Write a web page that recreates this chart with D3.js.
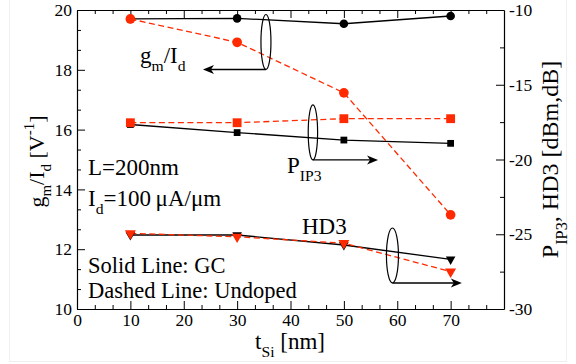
<!DOCTYPE html>
<html>
<head>
<meta charset="utf-8">
<script src="https://cdn.jsdelivr.net/npm/d3@7"></script>
<style>
  html, body { margin: 0; padding: 0; background: #fff; }
  svg { display: block; }
  text { font-family: "Liberation Serif", "Times New Roman", serif; fill: #000; }
</style>
</head>
<body>
<svg id="chart" width="576" height="364"></svg>
<script>
// Silicon film thickness (nm)
const tSi = [10, 30, 50, 70];

// gm/Id [1/V] (left axis)
const gmIdGC      = [19.70, 19.72, 19.54, 19.80];
const gmIdUndoped = [19.70, 18.92, 17.23, 13.15];

// PIP3 [dBm] (right axis)
const pip3GC      = [-17.66, -18.20, -18.70, -18.92];
const pip3Undoped = [-17.54, -17.54, -17.27, -17.27];

// HD3 [dB] (right axis)
const hd3GC      = [-25.05, -25.05, -25.72, -26.68];
const hd3Undoped = [-24.94, -25.17, -25.60, -27.50];

// Axis ticks
const xTicks      = [0, 10, 20, 30, 40, 50, 60, 70];
const yLeftTicks  = [10, 12, 14, 16, 18, 20];
const yRightTicks = [-30, -25, -20, -15, -10];

const RED = "#ff2a00";
const svg = d3.select("#chart");

const L = 77, R = 504, T = 10, B = 309;
const x  = d3.scaleLinear().domain([0, 80]).range([L, R]);
const yL = d3.scaleLinear().domain([10, 20]).range([B, T]);
const yR = d3.scaleLinear().domain([-30, -10]).range([B, T]);

// faint page frame
svg.append("rect").attr("x", 9.5).attr("y", -2).attr("width", 557).attr("height", 363.5)
  .attr("fill", "none").attr("stroke", "#efefef").attr("stroke-width", 1);

// minor tick positions
const xMinor = d3.range(0, 24).map(i => i * 10 / 3).filter((v, i) => i % 3 !== 0);
const yLMinor = d3.range(0, 15).map(i => 10 + i * 2 / 3).filter((v, i) => i % 3 !== 0);
const yRMinor = [-27.5, -22.5, -17.5, -12.5];

const TICK_FS = 17.5;
function styleAxis(g) {
  g.select(".domain").attr("stroke", "#000").attr("stroke-width", 1.2);
  g.selectAll(".tick line").attr("stroke", "#000").attr("stroke-width", 1);
  g.selectAll(".tick text").style("font-size", TICK_FS + "px").style("font-family", "Liberation Serif");
}

// bottom axis
svg.append("g").attr("transform", `translate(0,${B})`)
  .call(d3.axisBottom(x).tickValues(xTicks).tickSizeInner(-8).tickSizeOuter(0).tickPadding(5).tickFormat(d3.format("d")))
  .call(styleAxis)
  .call(g => g.selectAll(".tick text").attr("dy", "0.71em"));
svg.append("g").attr("transform", `translate(0,${B})`)
  .call(d3.axisBottom(x).tickValues(xMinor).tickSizeInner(-4).tickSizeOuter(0).tickFormat(""))
  .call(styleAxis).call(g => g.select(".domain").remove());

// top axis (mirror ticks)
svg.append("g").attr("transform", `translate(0,${T})`)
  .call(d3.axisTop(x).tickValues(xTicks).tickSizeInner(-8).tickSizeOuter(0).tickFormat(""))
  .call(styleAxis);
svg.append("g").attr("transform", `translate(0,${T})`)
  .call(d3.axisTop(x).tickValues(xMinor).tickSizeInner(-4).tickSizeOuter(0).tickFormat(""))
  .call(styleAxis).call(g => g.select(".domain").remove());

// left axis
svg.append("g").attr("transform", `translate(${L},0)`)
  .call(d3.axisLeft(yL).tickValues(yLeftTicks).tickSizeInner(-8).tickSizeOuter(0).tickPadding(5).tickFormat(d3.format("d")))
  .call(styleAxis);
svg.append("g").attr("transform", `translate(${L},0)`)
  .call(d3.axisLeft(yL).tickValues(yLMinor).tickSizeInner(-4).tickSizeOuter(0).tickFormat(""))
  .call(styleAxis).call(g => g.select(".domain").remove());

// right axis
svg.append("g").attr("transform", `translate(${R},0)`)
  .call(d3.axisRight(yR).tickValues(yRightTicks).tickSizeInner(-8).tickSizeOuter(0).tickPadding(5).tickFormat(d => d3.format("d")(d).replace("\u2212", "-")))
  .call(styleAxis);
svg.append("g").attr("transform", `translate(${R},0)`)
  .call(d3.axisRight(yR).tickValues(yRMinor).tickSizeInner(-4).tickSizeOuter(0).tickFormat(""))
  .call(styleAxis).call(g => g.select(".domain").remove());

// series drawing helpers
function drawLine(vals, yScale, color, dashed) {
  const pts = tSi.map((t, i) => [x(t), yScale(vals[i])]);
  svg.append("path").attr("d", d3.line()(pts))
    .attr("fill", "none").attr("stroke", color).attr("stroke-width", 1.3)
    .attr("stroke-dasharray", dashed ? "6,3.5" : null);
}
function drawMarkers(vals, yScale, color, shape, size) {
  const sym = d3.symbol().type(shape).size(size);
  svg.append("g").selectAll("path").data(vals).join("path")
    .attr("transform", (d, i) => {
      const rot = shape === d3.symbolTriangle ? " rotate(180)" : "";
      return `translate(${x(tSi[i])},${yScale(d)})${rot}`;
    })
    .attr("d", sym).attr("fill", color).attr("stroke", "none");
}

// GC (solid black) first, undoped (dashed red) on top
drawLine(gmIdGC, yL, "#000", false);
drawLine(pip3GC, yR, "#000", false);
drawLine(hd3GC, yR, "#000", false);
drawLine(gmIdUndoped, yL, RED, true);
drawLine(pip3Undoped, yR, RED, true);
drawLine(hd3Undoped, yR, RED, true);

drawMarkers(gmIdGC, yL, "#000", d3.symbolCircle, 58);
drawMarkers(pip3GC, yR, "#000", d3.symbolSquare, 46);
drawMarkers(hd3GC, yR, "#000", d3.symbolTriangle, 40);
drawMarkers(gmIdUndoped, yL, RED, d3.symbolCircle, 74);
drawMarkers(pip3Undoped, yR, RED, d3.symbolSquare, 78);
drawMarkers(hd3Undoped, yR, RED, d3.symbolTriangle, 52);

// group annotations: ellipse + arrow
function arrowHead(x0, y0, dir) {
  const len = 11, half = 4.5, notch = 3;
  const pts = [[x0, y0], [x0 - dir * len, y0 - half], [x0 - dir * (len - notch), y0], [x0 - dir * len, y0 + half]];
  svg.append("path").attr("d", d3.line()(pts) + "Z").attr("fill", "#000");
}
function annotate(cx, cy, ry, rx, xEnd) {
  svg.append("ellipse").attr("cx", cx).attr("cy", cy).attr("rx", rx).attr("ry", ry)
    .attr("fill", "none").attr("stroke", "#000").attr("stroke-width", 1.2);
  const yb = cy + ry;
  const dir = xEnd > cx ? 1 : -1;
  svg.append("line").attr("x1", cx).attr("y1", yb).attr("x2", xEnd - dir * 6).attr("y2", yb)
    .attr("stroke", "#000").attr("stroke-width", 1.3);
  arrowHead(xEnd, yb, dir);
}
annotate(x(35.4), yL(18.93), 27.5, 5, x(23.6));
annotate(x(44.2), yR(-18.19), 27.5, 4.7, x(56.4));
annotate(x(59.1), yR(-26.42), 27.5, 6, x(72.1));

// text with sub/superscripts
function richText(parent, px, py, parts, size, anchor) {
  const t = parent.append("text").attr("x", px).attr("y", py)
    .style("font-size", size + "px").attr("text-anchor", anchor || "start");
  let shift = 0;
  parts.forEach(p => {
    const ts = t.append("tspan").text(p.t);
    let target = 0, fs = size;
    if (p.sub) { target = size * 0.36; fs = size * 0.68; }
    if (p.sup) { target = -size * 0.42; fs = size * 0.68; }
    ts.style("font-size", fs + "px");
    if (target !== shift) { ts.attr("dy", target - shift); shift = target; }
  });
  return t;
}

const FS = 23;
richText(svg, 140, 63, [{t: "g"}, {t: "m", sub: true}, {t: "/I"}, {t: "d", sub: true}], FS);
richText(svg, 287, 173, [{t: "P"}, {t: "IP3", sub: true}], FS);
richText(svg, 302, 233.5, [{t: "HD3"}], FS);
richText(svg, 88, 175, [{t: "L=200nm"}], FS);
richText(svg, 88, 206, [{t: "I"}, {t: "d", sub: true}, {t: "=100\u2009\u03bcA/\u03bcm"}], FS);

// line-style key
richText(svg, 88, 272.5, [{t: "Solid Line: GC"}], 22.5);
richText(svg, 88, 297.5, [{t: "Dashed Line: Undoped"}], 22.5);

// axis titles
richText(svg, 290, 348.5, [{t: "t"}, {t: "Si", sub: true}, {t: " [nm]"}], FS, "middle");

const gL = svg.append("g").attr("transform", `translate(43.5,${(T + B) / 2 + 2}) rotate(-90)`);
richText(gL, 0, 0, [{t: "g"}, {t: "m", sub: true}, {t: "/I"}, {t: "d", sub: true}, {t: " [V"}, {t: "-1", sup: true}, {t: "]"}], 22, "middle");

const gR = svg.append("g").attr("transform", `translate(558,${(T + B) / 2}) rotate(-90)`);
richText(gR, 0, 0, [{t: "P"}, {t: "IP3", sub: true}, {t: ", HD3 [dBm,dB]"}], 24, "middle");
</script>
</body>
</html>
